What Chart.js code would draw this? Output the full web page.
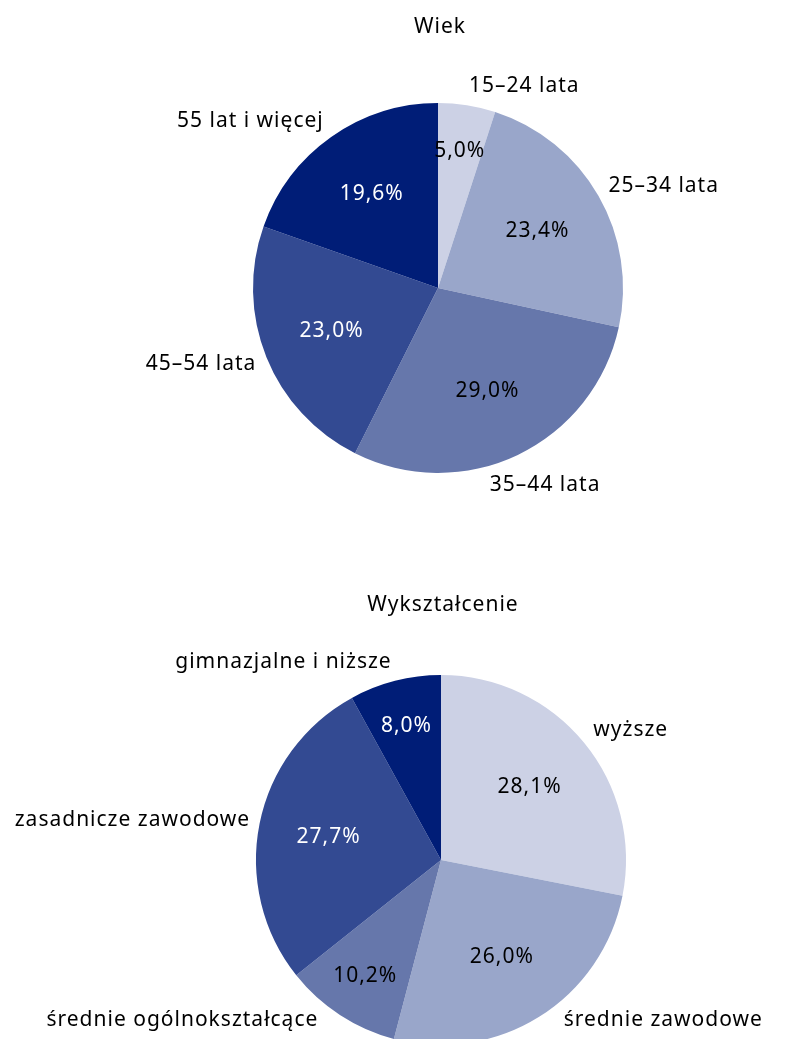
<!DOCTYPE html>
<html lang="pl">
<head>
<meta charset="utf-8">
<script src="https://cdn.jsdelivr.net/npm/chart.js@4.4.0/dist/chart.umd.min.js"></script>
<style>
  html, body { margin: 0; padding: 0; background: #fff; }
  #page { position: relative; width: 792px; height: 1039px; overflow: hidden; }
  #age-chart { position: absolute; left: 0; top: 0; }
  #edu-chart { position: absolute; left: 0; top: 520px; }
</style>
</head>
<body>
<div id="page">
  <canvas id="age-chart" width="792" height="520"></canvas>
  <canvas id="edu-chart" width="792" height="560"></canvas>
</div>
<script>
// Wiek
const ageLabels = ['15–24 lata', '25–34 lata', '35–44 lata', '45–54 lata', '55 lat i więcej']
const ageValues = [5.0, 23.4, 29.0, 23.0, 19.6]

// Wykształcenie
const eduLabels = ['wyższe', 'średnie zawodowe', 'średnie ogólnokształcące', 'zasadnicze zawodowe', 'gimnazjalne i niższe']
const eduValues = [28.1, 26.0, 10.2, 27.7, 8.0]

const sliceColors = ['#ccd1e5', '#99a6ca', '#6677ab', '#334a92', '#001d77']
const insideTextColors = ['#000', '#000', '#000', '#fff', '#fff']

const FONT = '21px "Noto Sans"'

function fmt(v){
    return v.toFixed(1).replace('.', ',') + '%'
}

// draws title, percentages inside slices and names outside
const pieLabels = {
    id: 'pieLabels',
    afterDatasetsDraw(chart, args, opts){
        const ctx = chart.ctx
        const meta = chart.getDatasetMeta(0)
        const values = chart.data.datasets[0].data
        const labels = chart.data.labels
        const area = chart.chartArea
        ctx.save()
        ctx.font = FONT
        ctx.letterSpacing = '1px'
        ctx.textAlign = 'center'
        ctx.textBaseline = 'middle'
        ctx.fillStyle = '#000'
        ctx.fillText(opts.title, (area.left + area.right) / 2 + 2, opts.titleY)

        meta.data.forEach((arc, i) => {
            const p = arc.getProps(['x', 'y', 'startAngle', 'endAngle', 'outerRadius'], true)
            const mid = (p.startAngle + p.endAngle) / 2
            const cos = Math.cos(mid)
            const sin = Math.sin(mid)

            // percentage inside
            const frac = (p.endAngle - p.startAngle) < 0.8 ? 0.75 : 0.62
            ctx.fillStyle = insideTextColors[i]
            ctx.fillText(fmt(values[i]), p.x + cos * p.outerRadius * frac, p.y + sin * p.outerRadius * frac)

            // name outside, moved until it clears the pie
            const w = ctx.measureText(labels[i]).width
            const h = 22
            const R = p.outerRadius + 8
            let bx = p.x + cos * R + cos * w / 2
            let by = p.y + sin * R + sin * h / 2
            if(sin > 0.8){
                const nx = Math.max(bx - w / 2, Math.min(p.x, bx + w / 2))
                const dx = Math.abs(nx - p.x)
                if(dx < R){
                    by = Math.max(by, p.y + Math.sqrt(R * R - dx * dx) + h / 2)
                }
            }
            by = Math.min(by, opts.maxY - h / 2 - 8)
            by = Math.max(by, h / 2)
            const ny = Math.max(by - h / 2, Math.min(p.y, by + h / 2))
            const dy = Math.abs(ny - p.y)
            if(dy < R){
                const half = Math.sqrt(R * R - dy * dy)
                if(cos >= 0){
                    bx = Math.max(bx, p.x + half + w / 2)
                }else{
                    bx = Math.min(bx, p.x - half - w / 2)
                }
            }
            ctx.fillStyle = '#000'
            ctx.fillText(labels[i], bx, by)
        })
        ctx.restore()
    }
}

function makePie(canvas, labels, values, title, titleY, maxY, padding){
    return new Chart(canvas, {
        type: 'pie',
        data: {
            labels: labels,
            datasets: [
                {
                    data: values,
                    backgroundColor: sliceColors,
                    borderWidth: 0,
                    hoverOffset: 0
                }
            ]
        },
        options: {
            responsive: false,
            animation: false,
            layout: { padding: padding },
            events: [],
            plugins: {
                legend: { display: false },
                tooltip: { enabled: false },
                pieLabels: { title: title, titleY: titleY, maxY: maxY }
            }
        },
        plugins: [pieLabels]
    })
}

const ageChart = makePie(document.getElementById('age-chart'), ageLabels, ageValues,
    'Wiek', 27, 520, { top: 103, bottom: 47, left: 200, right: 116 })

const eduChart = makePie(document.getElementById('edu-chart'), eduLabels, eduValues,
    'Wykształcenie', 85, 519, { top: 155, bottom: 35, left: 200, right: 110 })
</script>
</body>
</html>
